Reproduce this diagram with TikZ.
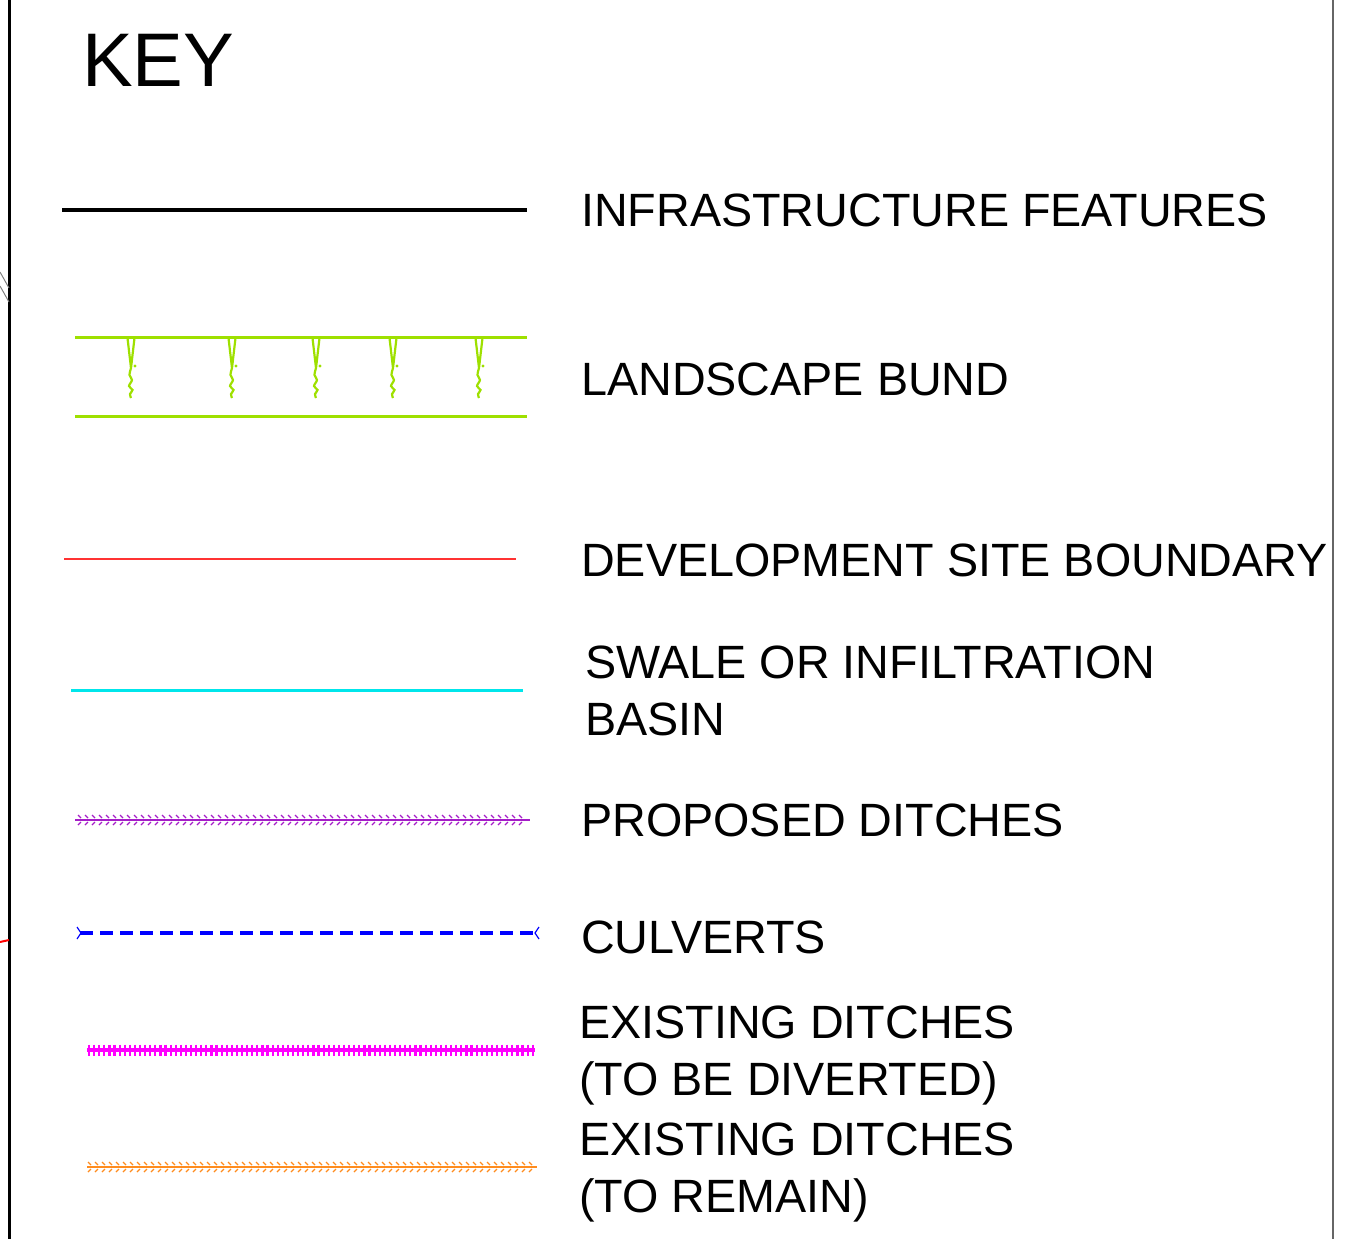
\documentclass[tikz,border=0pt]{standalone}
\usepackage{fontspec}
\setmainfont{Liberation Sans}
\definecolor{bund}{RGB}{158,224,0}
\definecolor{devred}{RGB}{255,50,50}
\definecolor{swale}{RGB}{0,230,235}
\definecolor{propd}{RGB}{165,30,200}
\definecolor{culv}{RGB}{0,0,255}
\definecolor{exdiv}{RGB}{255,0,255}
\definecolor{exrem}{RGB}{255,140,30}
\begin{document}
\begin{tikzpicture}[x=1pt,y=-1pt,
  label/.style={anchor=base west,inner sep=0pt,font=\fontsize{46.7}{56}\selectfont}]
\useasboundingbox (0,0) rectangle (1348,1239);
% frame lines
\draw[black,line width=2.2pt] (9.5,0) -- (9.5,1239);
\draw[gray!80!black,line width=1.6pt] (1333,0) -- (1333,1239);
\draw[gray,line width=1pt] (0,272) -- (9,288);
\draw[gray,line width=1pt] (0,286) -- (9,302);
\draw[red,line width=2pt] (0,942) -- (9,940);
% title
\node[anchor=base west,inner sep=0pt,font=\fontsize{76}{80}\selectfont] (key) at (82,86) {KEY};
% infrastructure
\coordinate (i1) at (62,210); \coordinate (i2) at (527,210);
\draw[black,line width=3.8pt] (i1) -- (i2);
\node[label] (tinf) at (581,226) {INFRASTRUCTURE FEATURES};
% landscape bund
\coordinate (b1) at (75,337); \coordinate (b2) at (527,337);
\coordinate (b3) at (75,416); \coordinate (b4) at (527,416);
\draw[bund,line width=3pt] (b1) -- (b2);
\draw[bund,line width=3pt] (b3) -- (b4);
\foreach \x in {131,232,316,393,479}{
  \draw[bund,line width=2.2pt,line join=round] (\x-3.5,338) -- (\x,368) -- (\x+3.5,338);
  \fill[bund] (\x+4,366) circle (1.6pt);
  \draw[bund,line width=2.2pt] plot[smooth] coordinates {(\x,368) (\x-1.5,375) (\x+1,380) (\x-2,386) (\x+1.5,390) (\x-1,394) (\x,398)};
}
\node[label] (tbund) at (581,395) {LANDSCAPE BUND};
% development site boundary
\coordinate (d1) at (64,559); \coordinate (d2) at (516,559);
\draw[devred,line width=1.5pt] (d1) -- (d2);
\node[label] (tdev) at (581,576) {DEVELOPMENT SITE BOUNDARY};
% swale
\coordinate (s1) at (71,690); \coordinate (s2) at (523,690);
\draw[swale,line width=3pt] (s1) -- (s2);
\node[label] (tswa1) at (585,678) {SWALE OR INFILTRATION};
\node[label] (tswa2) at (585,735) {BASIN};
% proposed ditches
\coordinate (p1) at (75,820); \coordinate (p2) at (530,820);
\draw[propd,line width=1.6pt] (p1) -- (p2);
\foreach \x in {78,85,...,524}{
  \draw[propd,line width=1.3pt] (\x,815) -- (\x+3,818);
  \draw[propd,line width=1.3pt] (\x,825) -- (\x+3,822);
}
\node[label] (tprop) at (581,836) {PROPOSED DITCHES};
% culverts
\coordinate (c1) at (80,933); \coordinate (c2) at (535,933);
\draw[culv,line width=4.5pt,dash pattern=on 13pt off 7pt] (c1) -- (c2);
\draw[culv,line width=1.2pt] (77,927) -- (81,933) -- (77,939);
\draw[culv,line width=1.2pt] (539,927) -- (535,933) -- (539,939);
\node[label] (tculv) at (581,953) {CULVERTS};
% existing ditches to be diverted
\coordinate (e1) at (87,1050); \coordinate (e2) at (535,1050);
\draw[exdiv,line width=4.5pt] (e1) -- (e2);
\foreach \x in {89,94.1,...,534}{
  \draw[exdiv,line width=2.2pt] (\x,1044.5) -- (\x,1055.5);
}
\node[label] (tex1a) at (579,1038) {EXISTING DITCHES};
\node[label] (tex1b) at (579,1095) {(TO BE DIVERTED)};
% existing ditches to remain
\coordinate (r1) at (87,1167); \coordinate (r2) at (537,1167);
\draw[exrem,line width=1.6pt] (r1) -- (r2);
\foreach \x in {88,95,...,532}{
  \draw[exrem,line width=1.3pt] (\x,1162) -- (\x+3,1165);
  \draw[exrem,line width=1.3pt] (\x,1172) -- (\x+3,1169);
}
\node[label] (tex2a) at (579,1155) {EXISTING DITCHES};
\node[label] (tex2b) at (579,1212) {(TO REMAIN)};
\end{tikzpicture}
\end{document}
